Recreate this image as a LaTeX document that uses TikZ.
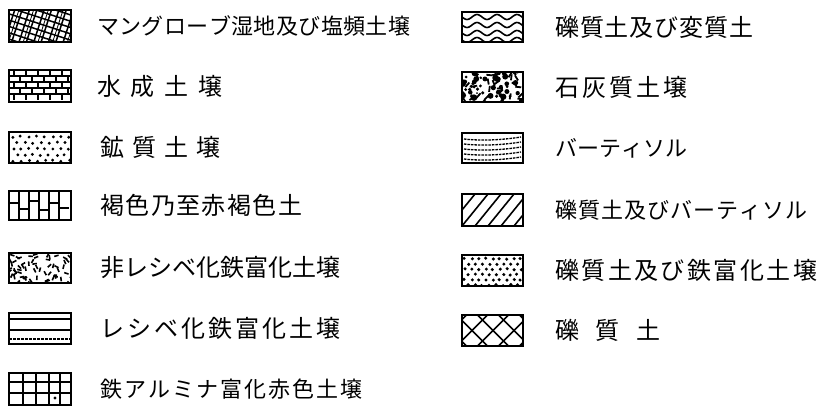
\documentclass[tikz,border=0pt]{standalone}
\usepackage{fontspec}
\newfontfamily\jp{Noto Sans CJK JP}
\makeatletter
\def\sp@end{\sp@end}
\newcommand\spreadtext[2]{\makebox[#1pt][s]{\sp@first#2\sp@end}}
\def\sp@first#1{#1\sp@next}
\def\sp@next#1{\ifx\sp@end#1\else\hfil#1\expandafter\sp@next\fi}
\makeatother
\tikzset{
  swbox/.style={draw=none,inner sep=0pt,outer sep=0pt},
  swborder/.style={line width=2.4pt},
  lbl/.style={anchor=west,inner sep=0pt,font=\jp\fontsize{22}{26}\selectfont},
  biglbl/.style={lbl,font=\jp\fontsize{24}{28}\selectfont},
}
\newcommand\swatch[6]{%
  \node[swbox,minimum width=#4pt,minimum height=#5pt,anchor=north west] (#1) at (#2,#3) {};
  \begin{scope}
    \clip (#1.north west) rectangle (#1.south east);
    \begin{scope}[shift={(#1.north west)}]
      #6
    \end{scope}
  \end{scope}
  \draw[swborder] (#1.north west) rectangle (#1.south east);
}
\begin{document}
\begin{tikzpicture}[x=1pt,y=-1pt]
\useasboundingbox[fill=white] (0,0) rectangle (823,410);

% ---------- left column ----------
\swatch{s1}{9}{10}{62}{32}{%
  \begin{scope}[rotate around={-18:(31,16)}]
    \foreach \u in {-40,-33,...,110} \draw[line width=1.5pt] (\u,-40) -- (\u,80);
    \foreach \v in {-40,-34,...,80} \draw[line width=1.5pt] (-40,\v) -- (110,\v);
    \foreach \u in {-36,-22,...,110} \draw[line width=0.8pt] (\u,-40) -- (\u,80);
  \end{scope}}
\node[lbl] (t1) at (97,26) {\spreadtext{313}{マングローブ湿地及び塩頻土壌}};

\swatch{s2}{9}{70}{62}{32}{%
  \foreach \v in {6,12,18,24} \draw[line width=1.1pt] (0,\v) -- (62,\v);
  \foreach \v/\o in {6/0,12/6,18/0,24/6,30/0}
    \foreach \u in {5,17,...,60} \draw[line width=1.1pt] (\u+\o,\v-6) -- (\u+\o,\v);}
\node[biglbl] (t2) at (97,86) {\spreadtext{125}{水成土壌}};

\swatch{s3}{9}{132}{62}{31}{%
  \pgfmathsetseed{5}
  \foreach \r in {0,...,4}
    \foreach \k in {0,...,7} {
      \pgfmathsetmacro\xx{\k*8+mod(\r,2)*4+3+rnd*2}
      \pgfmathsetmacro\yy{\r*6+4+rnd*1.5}
      \fill (\xx,\yy) circle (1.6);
    }}
\node[biglbl] (t3) at (100,147.5) {\spreadtext{120}{鉱質土壌}};

\swatch{s4}{9}{191}{62}{29}{%
  \foreach \u in {10,20,30,40,50} \draw[line width=1.8pt] (\u,0) -- (\u,29);
  \foreach \u/\t in {0/12,10/18,20/10,30/19,40/12,50/17} \draw[line width=1.4pt] (\u,\t) -- (\u+10,\t);}
\node[biglbl] (t4) at (100,205.5) {\spreadtext{202}{褐色乃至赤褐色土}};

\swatch{s5}{9}{253}{62}{30}{%
  \pgfmathsetseed{7}
  \foreach \i in {1,...,65} {
    \pgfmathsetmacro\xx{rnd*62}
    \pgfmathsetmacro\yy{rnd*30}
    \pgfmathsetmacro\aa{rnd*180}
    \draw[line width=1.6pt] (\xx,\yy) -- ++(\aa:4.5);
  }}
\node[biglbl] (t5) at (100,268) {\spreadtext{240}{非レシベ化鉄富化土壌}};

\swatch{s6}{9}{313}{62}{31}{%
  \draw[line width=1.8pt] (0,6) -- (62,6);
  \draw[line width=1.5pt] (0,17) -- (62,17);
  \draw[line width=1.4pt,dash pattern=on 3pt off 1pt] (0,26) -- (62,26);}
\node[biglbl] (t6) at (100,328.5) {\spreadtext{240}{レシベ化鉄富化土壌}};

\swatch{s7}{9}{373}{62}{32}{%
  \foreach \u in {14,27,40,51} \draw[line width=1.4pt] (\u,0) -- (\u,32);
  \foreach \v in {9,20} \draw[line width=1.4pt] (0,\v) -- (62,\v);
  \fill (46,25) circle (1.6);}
\node[lbl] (t7) at (100,389) {\spreadtext{262}{鉄アルミナ富化赤色土壌}};

% ---------- right column ----------
\swatch{r1}{462}{12}{61}{30}{%
  \foreach \c in {5,13,21,28}
    \draw[line width=1.6pt,domain=0:61,samples=50,smooth] plot (\x,{\c+2.5*sin(\x*18)});}
\node[biglbl] (u1) at (555,27) {\spreadtext{198}{礫質土及び変質土}};

\swatch{r2}{462}{72}{61}{30}{%
  \pgfmathsetseed{11}
  \foreach \i in {1,...,55} {
    \pgfmathsetmacro\xx{rnd*61}
    \pgfmathsetmacro\yy{rnd*30}
    \pgfmathsetmacro\rr{1+rnd*2.4}
    \fill (\xx,\yy) circle (\rr);
  }
  \pgfmathsetseed{23}
  \foreach \i in {1,...,30} {
    \pgfmathsetmacro\xx{rnd*61}
    \pgfmathsetmacro\yy{rnd*30}
    \pgfmathsetmacro\aa{rnd*180}
    \draw[line width=1.8pt] (\xx,\yy) -- ++(\aa:6);
  }}
\node[biglbl] (u2) at (555,87) {\spreadtext{132}{石灰質土壌}};

\swatch{r3}{462}{133}{61}{30}{%
  \foreach \c in {6,11,16,21,26}
    \draw[line width=1.3pt,dash pattern=on 2.5pt off 1pt] (2,\c) .. controls (20,\c+2) and (40,\c+1) .. (59,\c-2);}
\node[lbl] (u3) at (555,148) {\spreadtext{132}{バーティソル}};

\swatch{r4}{462}{194}{61}{32}{%
  \foreach \u in {-26,-13,...,65} \draw[line width=1.6pt] (\u,32) -- (\u+26,0);}
\node[lbl] (u4) at (555,210) {\spreadtext{252}{礫質土及びバーティソル}};

\swatch{r5}{462}{255}{61}{31}{%
  \pgfmathsetseed{3}
  \foreach \r in {0,...,5}
    \foreach \k in {0,...,8} {
      \pgfmathsetmacro\xx{\k*7+mod(\r,2)*3.5+2+rnd*1.5}
      \pgfmathsetmacro\yy{\r*5.3+3+rnd*1.2}
      \fill (\xx,\yy) circle (1.7);
    }}
\node[biglbl] (u5) at (555,270.5) {\spreadtext{262}{礫質土及び鉄富化土壌}};

\swatch{r6}{462}{315}{61}{31}{%
  \foreach \a in {-47.5,-26.5,-5.5,15.5,36.5,57.5} {
    \draw[line width=1.5pt] (\a,0) -- (\a+31,31);
    \draw[line width=1.5pt] (\a,31) -- (\a+31,0);
  }}
\node[biglbl] (u6) at (555,330) {\spreadtext{105}{礫質土}};
\end{tikzpicture}
\end{document}
